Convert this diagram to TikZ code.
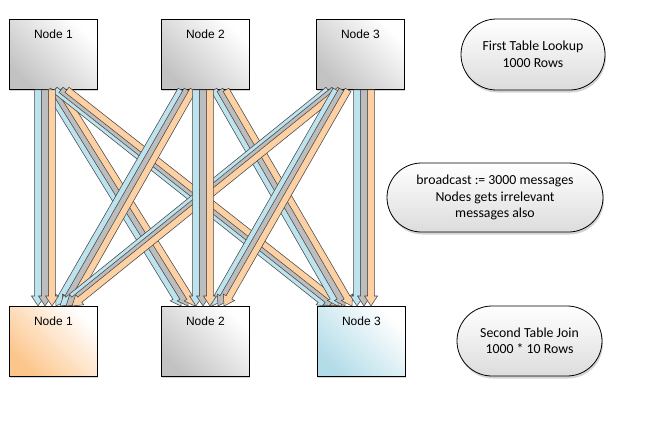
\documentclass[tikz,border=0pt]{standalone}
\usepackage{fontspec}
\setmainfont{Liberation Sans}
\newfontfamily\calib{Carlito}
\usetikzlibrary{calc,shapes.misc,shadows}
\definecolor{abl}{HTML}{BDE3EE}
\definecolor{agr}{HTML}{BDBDBD}
\definecolor{aor}{HTML}{FDD1A3}
\definecolor{boxgr}{HTML}{C2C2C2}
\definecolor{boxor}{HTML}{FCC58A}
\definecolor{boxbl}{HTML}{B3DCE8}
\definecolor{pillgr}{HTML}{DCDCDC}
\tikzset{
  nodebox/.style={draw=black, line width=0.8pt, minimum width=88pt, minimum height=70pt,
    anchor=north west, inner sep=0pt, drop shadow={shadow xshift=1pt, shadow yshift=-2pt, opacity=0.35}},
  grayfill/.style={top color=white, bottom color=boxgr, shading angle=-45},
  orfill/.style={top color=white, bottom color=boxor, shading angle=-45},
  blfill/.style={top color=white, bottom color=boxbl, shading angle=-45},
  nlabel/.style={label={[font=\fontsize{12}{14}\selectfont, anchor=north, yshift=-7pt]north:#1}},
  pill/.style={rounded rectangle, draw=black, line width=0.8pt, top color=white, bottom color=pillgr,
    font=\calib\fontsize{13.8}{16.5}\selectfont, align=center, inner sep=0pt,
    drop shadow={shadow xshift=1pt, shadow yshift=-2.5pt, opacity=0.35}},
  arrowband/.style={draw=black!72, line width=0.55pt, line join=miter},
}
\newcommand\farrow[5]{%
  \coordinate (fas) at ($(#2.south west)+(#3,0)$);
  \coordinate (fae) at ($(#4.north west)+(#5,0)$);
  \coordinate (fam) at ($(fae)!10pt!(fas)$);
  \filldraw[arrowband, fill=#1] ($(fas)!3.3pt!90:(fae)$) -- ($(fam)!3.3pt!-90:(fas)$)
    -- ($(fam)!6.5pt!-90:(fas)$) -- (fae) -- ($(fam)!6.5pt!90:(fas)$)
    -- ($(fam)!3.3pt!90:(fas)$) -- ($(fas)!3.3pt!-90:(fae)$) -- cycle;
}
\begin{document}
\begin{tikzpicture}[x=1pt,y=-1pt]
\useasboundingbox (0,0) rectangle (648,432);
% top row
\node[nodebox, grayfill, nlabel={Node 1}] (s1) at (9,19) {};
\node[nodebox, grayfill, nlabel={Node 2}] (s2) at (161,19) {};
\node[nodebox, grayfill, nlabel={Node 3}] (s3) at (316,19) {};
% bottom row
\node[nodebox, orfill, nlabel={Node 1}] (t1) at (9,306) {};
\node[nodebox, grayfill, nlabel={Node 2}] (t2) at (161,306) {};
\node[nodebox, blfill, nlabel={Node 3}] (t3) at (317,306) {};
% pills
\node[pill, minimum width=144pt, minimum height=71pt] (p1) at (533,54.5) {First Table Lookup\\1000 Rows};
\node[pill, minimum width=216pt, minimum height=69pt] (p2) at (495,197.5) {broadcast := 3000 messages\\Nodes gets irrelevant\\messages also};
\node[pill, minimum width=145pt, minimum height=70pt] (p3) at (529.5,341) {Second Table Join\\1000 * 10 Rows};
% diagonal arrows
\farrow{abl}{s1}{39}{t2}{20}\farrow{agr}{s1}{45}{t2}{27}\farrow{aor}{s1}{51}{t2}{34}
\farrow{abl}{s1}{46}{t3}{11}\farrow{agr}{s1}{52}{t3}{18}\farrow{aor}{s1}{58}{t3}{25}
\farrow{abl}{s2}{20}{t1}{47}\farrow{agr}{s2}{26}{t1}{54}\farrow{aor}{s2}{32}{t1}{61}
\farrow{abl}{s2}{53}{t3}{21}\farrow{agr}{s2}{59}{t3}{28}\farrow{aor}{s2}{65}{t3}{35}
\farrow{abl}{s3}{12}{t1}{51}\farrow{agr}{s3}{18}{t1}{57}\farrow{aor}{s3}{24}{t1}{63}
\farrow{abl}{s3}{20}{t2}{51}\farrow{agr}{s3}{26}{t2}{57}\farrow{aor}{s3}{32}{t2}{63}
% vertical arrows
\farrow{abl}{s1}{29}{t1}{29}\farrow{agr}{s1}{36}{t1}{36}\farrow{aor}{s1}{43}{t1}{43}
\farrow{abl}{s2}{35}{t2}{35}\farrow{agr}{s2}{42}{t2}{42}\farrow{aor}{s2}{49}{t2}{49}
\farrow{abl}{s3}{41}{t3}{40}\farrow{agr}{s3}{48}{t3}{47}\farrow{aor}{s3}{55}{t3}{54}
\end{tikzpicture}
\end{document}
